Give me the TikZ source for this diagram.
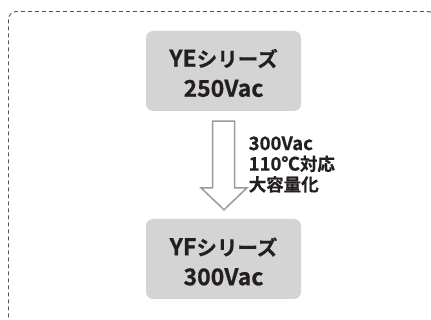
\documentclass[tikz,border=0pt]{standalone}
\usepackage{fontspec}
\setmainfont{Noto Sans CJK JP}[BoldFont={Noto Sans CJK JP Bold}]
\newfontfamily\jpbold{Noto Sans CJK JP Bold}[FakeBold=0.6]
\newcommand\biglat[1]{{\fontsize{23}{30}\selectfont #1}}
\newcommand\smlat[1]{{\fontsize{18.5}{20.5}\selectfont #1}}
\definecolor{boxgray}{HTML}{D4D4D4}
\definecolor{txt}{HTML}{231F20}
\definecolor{arrowgray}{HTML}{9A9A9A}
\definecolor{dashgray}{HTML}{555555}
\begin{document}
\begin{tikzpicture}[x=1pt,y=-1pt,
  seriesbox/.style={draw=none, fill=boxgray, rounded corners=7pt, minimum width=155pt, minimum height=80pt, inner sep=0pt},
  seriestext/.style={inner sep=0pt, align=center, text=txt, font=\jpbold\fontsize{20.5}{30}\selectfont},
  note/.style={align=left, text=txt, inner sep=0pt, font=\jpbold\fontsize{17.5}{20.5}\selectfont},
  blockarrow/.style={draw=arrowgray, line width=1.5pt, fill=white, line join=miter}]
\useasboundingbox (0,0) rectangle (431,320);
\draw[dashgray, line width=0.9pt, dash pattern=on 4pt off 3pt, rounded corners=8pt] (8.5,11.5) rectangle (436,326);
\node[seriesbox] (ye) at (223.5,71) {};
\node[seriesbox] (yf) at (223.5,259) {};
\node[seriestext] (yet) at ([yshift=-2pt]ye.center) {\biglat{YE}シリーズ\\\biglat{250Vac}};
\node[seriestext] (yft) at ([yshift=-2.5pt]yf.center) {\biglat{YF}シリーズ\\\biglat{300Vac}};
\coordinate (a1) at ([xshift=-11pt,yshift=-10pt]ye.south);
\coordinate (a2) at ([xshift=11pt,yshift=-10pt]ye.south);
\coordinate (a3) at ([xshift=11pt,yshift=31pt]yf.north);
\coordinate (a4) at ([xshift=23.5pt,yshift=31pt]yf.north);
\coordinate (tip) at ([xshift=0.5pt,yshift=9pt]yf.north);
\coordinate (a6) at ([xshift=-22.5pt,yshift=31pt]yf.north);
\coordinate (a7) at ([xshift=-11pt,yshift=31pt]yf.north);
\draw[blockarrow] (a1) -- (a2) -- (a3) -- (a4) -- (tip) -- (a6) -- (a7) -- cycle;
\node[note, anchor=west] (lbl) at (248.5,164.5) {\smlat{300Vac}\\\smlat{110℃}対応\\大容量化};
\end{tikzpicture}
\end{document}
